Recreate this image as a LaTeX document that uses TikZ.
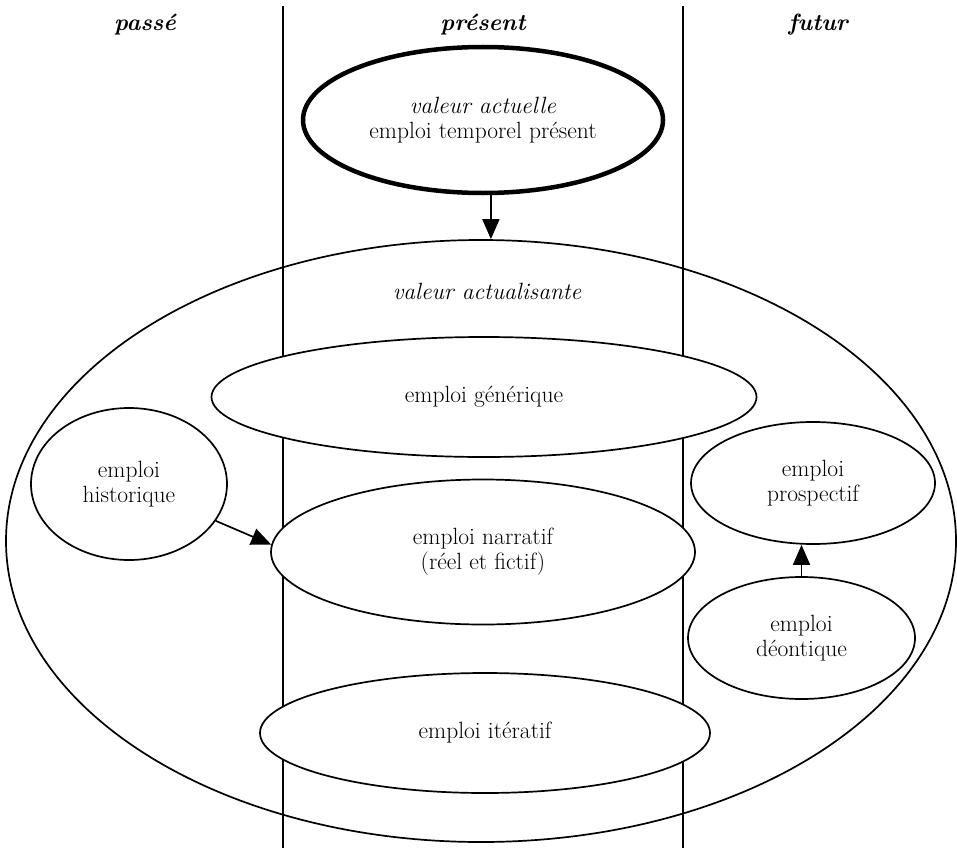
\documentclass[tikz,border=0pt]{standalone}
\usepackage{fontspec}
\usetikzlibrary{shapes.geometric,arrows.meta}
\begin{document}
\begin{tikzpicture}[x=1pt,y=-1pt,
  every node/.style={font=\fontsize{23.5}{25}\selectfont, align=center},
  header/.style={font=\fontsize{23.5}{25}\selectfont\bfseries\itshape},
  oval/.style args={#1 by #2}{ellipse, draw, line width=1.7pt, fill=white,
    inner sep=0pt, minimum width=#1pt, minimum height=#2pt},
  divider/.style={line width=1.7pt},
  link/.style={line width=1.7pt, -{Triangle[length=20pt,width=17pt]}}
]
\useasboundingbox (0,0) rectangle (957,848);

% column dividers
\coordinate (divL top) at (283,6);
\coordinate (divL bot) at (283,848);
\coordinate (divR top) at (683,6);
\coordinate (divR bot) at (683,848);
\draw[divider] (divL top) -- (divL bot);
\draw[divider] (divR top) -- (divR bot);

% column headings
\node[header] (passe) at (145,25) {passé};
\node[header] (present) at (483,25) {présent};
\node[header] (futur) at (818,25) {futur};

% current value
\node[oval=360 by 146, line width=4.5pt] (actuelle) at (483,120)
  {\textit{valeur actuelle}\\emploi temporel présent};

% actualising value: large enclosing ellipse
\node[ellipse, draw, line width=1.7pt, inner sep=0pt,
  minimum width=950pt, minimum height=602pt] (actualisante) at (481,541) {};
\node[font=\fontsize{23.5}{25}\selectfont\itshape] (actlabel) at (487,291)
  {valeur actualisante};

% uses
\node[oval=545 by 120] (generique) at (484,397) {emploi générique};
\node[oval=196 by 152] (historique) at (129,484) {emploi\\historique};
\node[oval=424 by 145] (narratif) at (483,552) {emploi narratif\\(réel et fictif)};
\node[oval=244 by 122] (prospectif) at (813,483) {emploi\\prospectif};
\node[oval=227 by 122] (deontique) at (801.5,638) {emploi\\déontique};
\node[oval=450 by 120] (iteratif) at (485,733) {emploi itératif};

% connectors
\draw[link] (actuelle.-84.5) -- (actuelle.-84.5 |- actualisante.north);
\draw[link] (historique.-23) -- (narratif.178);
\draw[link] (deontique.north) -- (deontique.north |- prospectif.south);
\end{tikzpicture}
\end{document}
